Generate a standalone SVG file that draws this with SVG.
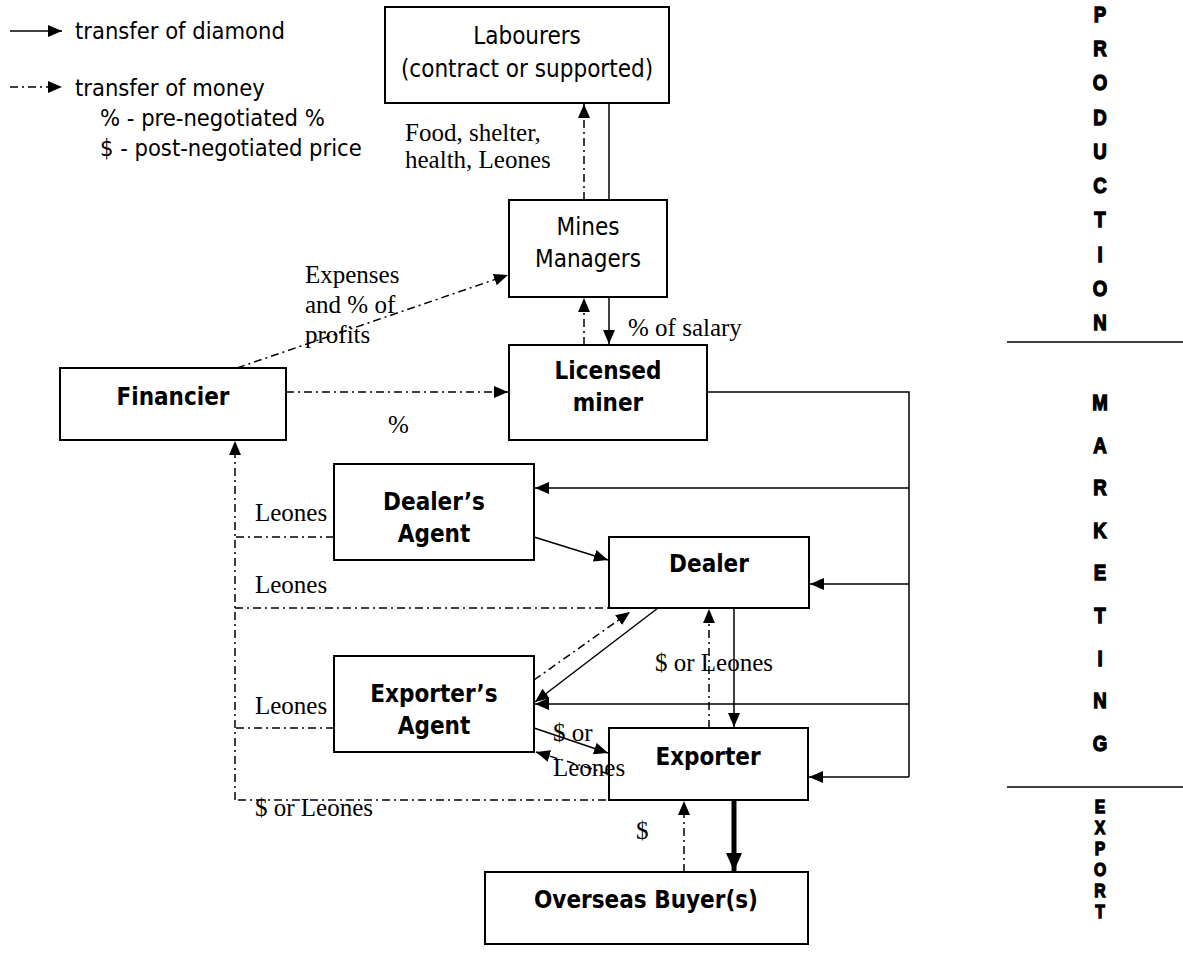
<svg xmlns="http://www.w3.org/2000/svg" width="1183" height="960" viewBox="0 0 1183 960">
<defs>
<marker id="ah" markerUnits="userSpaceOnUse" markerWidth="15" markerHeight="12" refX="14" refY="6" orient="auto"><path d="M0,0 L14,6 L0,12 z" fill="#000"/></marker>
<marker id="ahb" markerUnits="userSpaceOnUse" markerWidth="20" markerHeight="18" refX="18" refY="8" orient="auto"><path d="M0,0 L18,8 L0,16 z" fill="#000"/></marker>
<style>
.box{fill:#fff;stroke:#000;stroke-width:2}
.n{font-family:"DejaVu Sans Condensed","DejaVu Sans",sans-serif;font-stretch:condensed;font-size:24px;text-anchor:middle;fill:#000}
.b{font-weight:bold}
.lg{font-family:"DejaVu Sans Condensed","DejaVu Sans",sans-serif;font-stretch:condensed;font-size:23.5px;fill:#000}
.sf{font-family:"Liberation Serif",serif;font-size:25px;fill:#000}
.s{fill:none;stroke:#000;stroke-width:1.5}
.d{fill:none;stroke:#000;stroke-width:1.5;stroke-dasharray:8 4 2 4}
.side{font-family:"Liberation Sans Narrow","Liberation Sans",sans-serif;font-weight:bold;font-size:22px;text-anchor:middle;fill:#000;stroke:#000;stroke-width:1.3}
.sm{font-size:18.5px;stroke-width:1.3}
</style>
</defs>
<rect width="1183" height="960" fill="#fff"/>
<g id="legend">
<line class="s" x1="10" y1="31" x2="62" y2="31" marker-end="url(#ah)"/>
<text class="lg" x="75" y="39">transfer of diamond</text>
<line class="d" x1="10" y1="87" x2="62" y2="87" marker-end="url(#ah)"/>
<text class="lg" x="75" y="96">transfer of money</text>
<text class="lg" x="100" y="126">% - pre-negotiated %</text>
<text class="lg" x="100" y="156">$ - post-negotiated price</text>
</g>
<g id="connectors">
<line class="s" x1="609" y1="103" x2="609" y2="200"/>
<line class="d" x1="584" y1="200" x2="584" y2="104" marker-end="url(#ah)"/>
<line class="s" x1="609" y1="297" x2="609" y2="344" marker-end="url(#ah)"/>
<line class="d" x1="584" y1="345" x2="584" y2="298" marker-end="url(#ah)"/>
<line class="d" x1="237" y1="368" x2="508" y2="275" marker-end="url(#ah)"/>
<line class="d" x1="286" y1="392" x2="508" y2="392" marker-end="url(#ah)"/>
<polyline class="s" points="707,392 909,392 909,777"/>
<line class="s" x1="909" y1="488" x2="535" y2="488" marker-end="url(#ah)"/>
<line class="s" x1="909" y1="584" x2="810" y2="584" marker-end="url(#ah)"/>
<line class="s" x1="909" y1="704" x2="535" y2="704" marker-end="url(#ah)"/>
<line class="s" x1="909" y1="777" x2="809" y2="777" marker-end="url(#ah)"/>
<line class="s" x1="534" y1="537" x2="608" y2="560" marker-end="url(#ah)"/>
<line class="s" x1="658" y1="608" x2="535" y2="702" marker-end="url(#ah)"/>
<line class="d" x1="534" y1="680" x2="630" y2="612" marker-end="url(#ah)"/>
<line class="s" x1="734" y1="608" x2="734" y2="727" marker-end="url(#ah)"/>
<line class="d" x1="709" y1="728" x2="709" y2="609" marker-end="url(#ah)"/>
<line class="s" x1="534" y1="728" x2="608" y2="753" marker-end="url(#ah)"/>
<line class="d" x1="609" y1="774" x2="536" y2="752" marker-end="url(#ah)"/>
<line x1="734" y1="800" x2="734" y2="871" stroke="#000" stroke-width="5" marker-end="url(#ahb)"/>
<line class="d" x1="684" y1="872" x2="684" y2="801" marker-end="url(#ah)"/>
<line class="d" x1="235" y1="800" x2="235" y2="441" marker-end="url(#ah)"/>
<line class="d" x1="334" y1="537" x2="235" y2="537"/>
<line class="d" x1="657" y1="608" x2="235" y2="608"/>
<line class="d" x1="334" y1="728" x2="235" y2="728"/>
<line class="d" x1="660" y1="800" x2="235" y2="800"/>
</g>
<g id="labourers"><rect class="box" x="385" y="7" width="284" height="96"/><text class="n" x="527" y="44">Labourers</text><text class="n" x="527" y="77">(contract or supported)</text></g>
<g id="mines-managers"><rect class="box" x="509" y="200" width="158" height="97"/><text class="n" x="588" y="235">Mines</text><text class="n" x="588" y="267">Managers</text></g>
<g id="licensed-miner"><rect class="box" x="509" y="345" width="198" height="95"/><text class="n b" x="608" y="379">Licensed</text><text class="n b" x="608" y="411">miner</text></g>
<g id="financier"><rect class="box" x="60" y="368" width="226" height="72"/><text class="n b" x="173" y="405">Financier</text></g>
<g id="dealers-agent"><rect class="box" x="334" y="464" width="200" height="96"/><text class="n b" x="434" y="510">Dealer’s</text><text class="n b" x="434" y="542">Agent</text></g>
<g id="dealer"><rect class="box" x="609" y="537" width="200" height="71"/><text class="n b" x="709" y="572">Dealer</text></g>
<g id="exporters-agent"><rect class="box" x="334" y="656" width="200" height="96"/><text class="n b" x="434" y="702">Exporter’s</text><text class="n b" x="434" y="734">Agent</text></g>
<g id="exporter"><rect class="box" x="609" y="728" width="199" height="72"/><text class="n b" x="708" y="765">Exporter</text></g>
<g id="overseas-buyers"><rect class="box" x="485" y="872" width="323" height="72"/><text class="n b" x="646" y="908">Overseas Buyer(s)</text></g>
<g id="labels">
<text class="sf" x="405" y="141">Food, shelter,</text>
<text class="sf" x="405" y="168">health, Leones</text>
<text class="sf" x="305" y="283">Expenses</text>
<text class="sf" x="305" y="313">and % of</text>
<text class="sf" x="305" y="343">profits</text>
<text class="sf" x="388" y="433">%</text>
<text class="sf" x="628" y="336">% of salary</text>
<text class="sf" x="255" y="521">Leones</text>
<text class="sf" x="255" y="593">Leones</text>
<text class="sf" x="255" y="714">Leones</text>
<text class="sf" x="255" y="816">$ or Leones</text>
<text class="sf" x="655" y="671">$ or Leones</text>
<text class="sf" x="553" y="741">$ or</text>
<text class="sf" x="553" y="776">Leones</text>
<text class="sf" x="636" y="839">$</text>
</g>
<g id="stages">
<line x1="1007" y1="342" x2="1183" y2="342" stroke="#000" stroke-width="1.5"/>
<line x1="1007" y1="787" x2="1183" y2="787" stroke="#000" stroke-width="1.5"/>
<g transform="translate(1100,0) scale(0.85,1)">
<text class="side" x="0" y="22">P</text>
<text class="side" x="0" y="56">R</text>
<text class="side" x="0" y="90">O</text>
<text class="side" x="0" y="125">D</text>
<text class="side" x="0" y="159">U</text>
<text class="side" x="0" y="193">C</text>
<text class="side" x="0" y="227">T</text>
<text class="side" x="0" y="262">I</text>
<text class="side" x="0" y="296">O</text>
<text class="side" x="0" y="330">N</text>
<text class="side" x="0" y="410">M</text>
<text class="side" x="0" y="453">A</text>
<text class="side" x="0" y="495">R</text>
<text class="side" x="0" y="538">K</text>
<text class="side" x="0" y="580">E</text>
<text class="side" x="0" y="623">T</text>
<text class="side" x="0" y="666">I</text>
<text class="side" x="0" y="708">N</text>
<text class="side" x="0" y="751">G</text>
<text class="side sm" x="0" y="813">E</text>
<text class="side sm" x="0" y="834">X</text>
<text class="side sm" x="0" y="855">P</text>
<text class="side sm" x="0" y="876">O</text>
<text class="side sm" x="0" y="897">R</text>
<text class="side sm" x="0" y="918">T</text>
</g>
</g>
</svg>
